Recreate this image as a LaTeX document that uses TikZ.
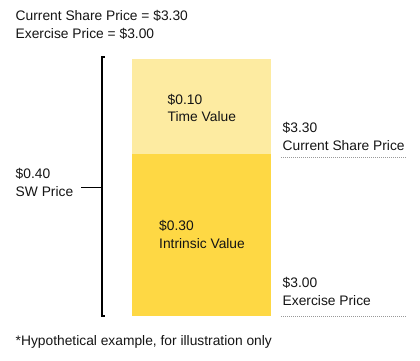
\documentclass[tikz,border=0pt]{standalone}
\usepackage{fontspec}
\setmainfont{Liberation Sans}
\definecolor{lightgold}{RGB}{253,235,161}
\definecolor{gold}{RGB}{254,216,68}
\definecolor{txt}{RGB}{20,20,20}
\begin{document}
\begin{tikzpicture}[x=1pt,y=-1pt,
  lbl/.style={anchor=base west,inner sep=0pt,align=left,text=txt,
    font=\fontsize{13.8}{17.6}\selectfont},
  bracket/.style={draw=black,line width=1.2pt},
  guide/.style={draw=gray!80,line width=0.8pt,dash pattern=on 1pt off 1pt}]
\useasboundingbox (0,0) rectangle (420,360);
% blocks
\fill[lightgold] (132,59) rectangle (271,154);
\fill[gold] (132,154) rectangle (271,316);
% bracket
\coordinate (bt) at (102,57);
\coordinate (bb) at (102,316);
\coordinate (bm) at (102,187.3);
\coordinate (tl) at (81,187.3);
\draw[bracket] (104.5,57) -- (bt) -- (bb) -- (104.5,316);
\draw[bracket] (tl) -- (bm);
% dotted guides
\coordinate (g1a) at (281,157.5);
\coordinate (g1b) at (406,157.5);
\coordinate (g2a) at (281,316.7);
\coordinate (g2b) at (406,316.7);
\draw[guide] (g1a) -- (g1b);
\draw[guide] (g2a) -- (g2b);
% texts (anchor = baseline of last line)
\node[lbl] (hdr) at (15.5,38.5) {Current Share Price = \$3.30\\Exercise Price = \$3.00};
\node[lbl] (tv) at (167.5,121.7) {\$0.10\\Time Value};
\node[lbl] (iv) at (159,248.3) {\$0.30\\Intrinsic Value};
\node[lbl] (sw) at (15.5,196) {\$0.40\\SW Price};
\node[lbl] (csp) at (282.5,150) {\$3.30\\Current Share Price};
\node[lbl] (ep) at (282.5,305) {\$3.00\\Exercise Price};
\node[lbl] (fn) at (15.5,345.3) {*Hypothetical example, for illustration only};
\end{tikzpicture}
\end{document}
